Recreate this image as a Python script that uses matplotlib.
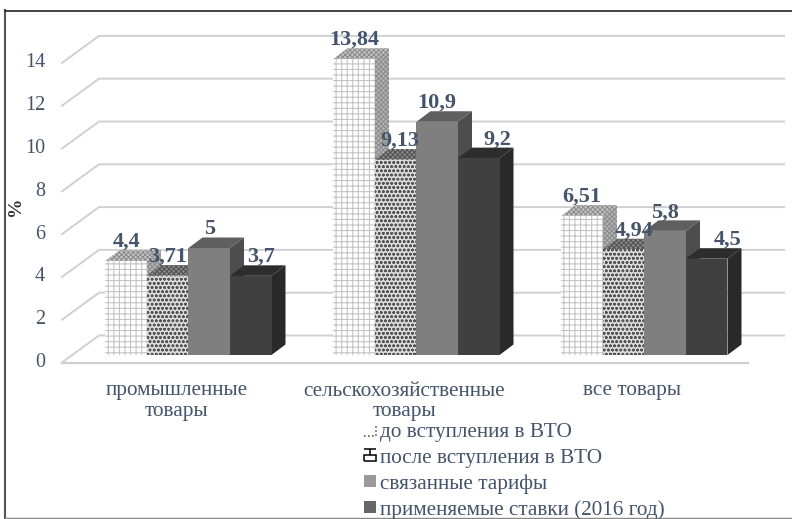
import matplotlib
matplotlib.use("Agg")
import matplotlib.pyplot as plt
from matplotlib.legend_handler import HandlerPatch
from matplotlib.patches import Patch, PathPatch, Polygon
from matplotlib.path import Path

plt.rcParams["font.family"] = ["Liberation Serif", "DejaVu Serif"]
plt.rcParams["hatch.linewidth"] = 0.75

# =========================================
# DATA
# =========================================

categories = ["промышленные\nтовары", "сельскохозяйственные\nтовары", "все товары"]
series_names = [
    "до вступления в ВТО",
    "после вступления в ВТО",
    "связанные тарифы",
    "применяемые ставки (2016 год)",
]
before_wto = [4.4, 13.84, 6.51]
after_wto = [3.71, 9.13, 4.94]
bound_tariffs = [5, 10.9, 5.8]
applied_rates = [3.7, 9.2, 4.5]
bar_labels = [
    ["4,4", "13,84", "6,51"],
    ["3,71", "9,13", "4,94"],
    ["5", "10,9", "5,8"],
    ["3,7", "9,2", "4,5"],
]
y_ticks = [0, 2, 4, 6, 8, 10, 12, 14]

series = [before_wto, after_wto, bound_tariffs, applied_rates]

# =========================================
# SCALES (1 x unit = category step, 228 px; 21.4 px = 1 %)
# =========================================

W, H = 792, 519
STEP = 228.0
PER = 21.4
X0 = 188.5   # pixel of category 0
Y0 = 355.0   # pixel of value 0

fig = plt.figure(figsize=(W / 100, H / 100), dpi=100)
ax = fig.add_axes([0, 0, 1, 1])
ax.set_xlim(-X0 / STEP, (W - X0) / STEP)
ax.set_ylim(-(H - Y0) / PER, Y0 / PER)
ax.axis("off")


def px(dx):
    return dx / STEP


def py(dy):
    return dy / PER


TEXT = "#44546a"
GRID = "#d0d0d3"

# frame of the chart: no right side
ax.plot([5 / W, 5 / W], [1 - 10 / H, 0], transform=ax.transAxes,
        color="#555555", linewidth=1.5, zorder=0)
ax.plot([5 / W, 1], [1 - 10.5 / H, 1 - 10.5 / H], transform=ax.transAxes,
        color="#222222", linewidth=1.2, zorder=0)
ax.plot([5 / W, 1], [1 - 518 / H, 1 - 518 / H], transform=ax.transAxes,
        color="#888888", linewidth=1.0, zorder=0)

# =========================================
# WALL AND FLOOR
# =========================================

left_front = -(X0 - 62) / STEP
left_back = -(X0 - 99) / STEP
right_back = (784 - X0) / STEP
right_front = (748 - X0) / STEP
back_up = py(Y0 - 335.5)
front_down = py(362.5 - Y0)

for v in y_ticks:
    ax.plot([left_front, left_back, right_back],
            [v - front_down, v + back_up, v + back_up],
            color=GRID, linewidth=1.4, zorder=1)
    ax.text(px(45 - X0), v - front_down, str(v), ha="right", va="center",
            fontsize=14.5, color=TEXT, zorder=5)
ax.plot([left_front, right_front], [-front_down, -front_down],
        color=GRID, linewidth=1.6, zorder=1)

# =========================================
# BARS
# =========================================

styles = [
    dict(front="white", hatch_front="+++", edge_front="#c2c2c2",
         top="#c4c4c4", side="#b4b4b4", hatch_side="xxxxxxx", edge_side="#8c8c8c"),
    dict(front="#dcdcdc", hatch_front="oooo", edge_front="#555555",
         top="#8a8a8a", side="#6a6a6a", hatch_side="xxxxxxx", edge_side="#505050"),
    dict(front="#7f7f7f", hatch_front=None, edge_front="#7f7f7f",
         top="#5f5f5f", side="#4d4d4d", hatch_side=None, edge_side="#4d4d4d"),
    dict(front="#404040", hatch_front=None, edge_front="#404040",
         top="#2d2d2d", side="#292929", hatch_side=None, edge_side="#292929"),
]

# shift of each label from its bar, pixels
label_shift = [
    [0, 0, 0],
    [0, 4, 10],
    [0, 0, 0],
    [10, 19, 21],
]

BAR_W = px(41.5)
DEPTH_X = px(14)
DEPTH_Y = py(10.5)

z = 2
for i in range(len(categories)):
    for s, values in enumerate(series):
        st = styles[s]
        left = i + (s - 2) * BAR_W
        right = left + BAR_W
        v = values[i]
        side = Polygon([(right, 0), (right + DEPTH_X, DEPTH_Y),
                        (right + DEPTH_X, v + DEPTH_Y), (right, v)],
                       facecolor=st["side"], edgecolor=st["edge_side"],
                       hatch=st["hatch_side"], linewidth=0, zorder=z)
        top = Polygon([(left, v), (left + DEPTH_X, v + DEPTH_Y),
                       (right + DEPTH_X, v + DEPTH_Y), (right, v)],
                      facecolor=st["top"], edgecolor=st["edge_side"],
                      hatch=st["hatch_side"], linewidth=0, zorder=z)
        ax.add_patch(side)
        ax.add_patch(top)
        ax.bar(left, v, width=BAR_W, align="edge", color=st["front"],
               edgecolor=st["edge_front"], hatch=st["hatch_front"],
               linewidth=0, zorder=z + 0.5)
        ax.annotate(bar_labels[s][i], (left + BAR_W / 2, v),
                    xytext=(label_shift[s][i] * 0.72, 13.5),
                    textcoords="offset points", ha="center", va="center",
                    fontsize=16, fontweight="bold", color=TEXT, zorder=20)
        z += 1

# =========================================
# TEXT
# =========================================

for i, name in enumerate(categories):
    ax.text(i - px(12), py(Y0 - 381.5), name, ha="center", va="top",
            fontsize=15.3, color=TEXT, linespacing=1.13, zorder=5)

ax.text(px(16 - X0), py(Y0 - 206), "%", rotation=90, ha="center", va="center",
        fontsize=14, fontweight="bold", color="#333333")


# =========================================
# LEGEND
# =========================================

def dotted_corner(legend, orig_handle, xdescent, ydescent, width, height, fontsize):
    x, y = -xdescent, -ydescent
    path = Path([(x, y), (x + width, y), (x + width, y + height)])
    return PathPatch(path, fill=False)


def split_box(legend, orig_handle, xdescent, ydescent, width, height, fontsize):
    x, y = -xdescent, -ydescent
    path = Path([(x, y), (x + width, y), (x + width, y + height / 2),
                 (x, y + height / 2), (x, y),
                 (x, y + height), (x + width, y + height),
                 (x + width / 2, y + height), (x + width / 2, y + height / 2)],
                [Path.MOVETO] + [Path.LINETO] * 4 + [Path.MOVETO] + [Path.LINETO]
                + [Path.MOVETO] + [Path.LINETO])
    return PathPatch(path, fill=False)


handles = [
    Patch(fill=False, edgecolor="#444444", linewidth=1.1, linestyle=":"),
    Patch(fill=False, edgecolor="black", linewidth=1.1),
    Patch(facecolor="#9a9a9a", linewidth=0),
    Patch(facecolor="#666666", linewidth=0),
]
ax.legend(handles, series_names, loc="upper left",
          bbox_to_anchor=(364 / W, 1 - 423.5 / H), frameon=False, fontsize=15.3,
          labelcolor=TEXT, handlelength=0.56, handleheight=0.5,
          handletextpad=0.2, labelspacing=0.3, borderpad=0, borderaxespad=0,
          handler_map={handles[0]: HandlerPatch(patch_func=dotted_corner),
                       handles[1]: HandlerPatch(patch_func=split_box)})

fig.savefig("out.png", dpi=100)
